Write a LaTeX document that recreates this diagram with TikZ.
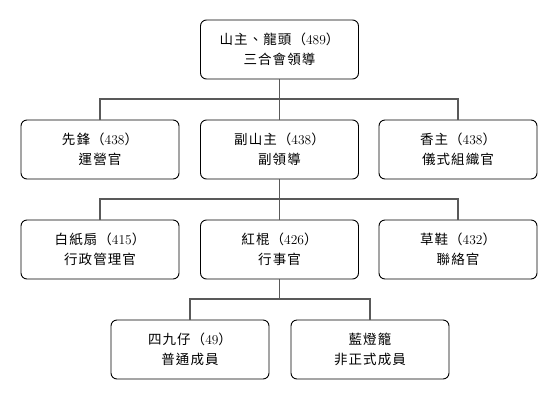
\documentclass[tikz,border=0pt]{standalone}
\usepackage{fontspec}
\newfontfamily\cjk[LetterSpace=8]{Noto Sans CJK TC}
\newcommand{\nr}[1]{（{\rmfamily #1}）}
\begin{document}
\begin{tikzpicture}[x=1pt,y=-1pt,
  rolle/.style={draw=black, line width=0.9pt, rounded corners=6pt, minimum width=158pt, minimum height=59pt, inner sep=0pt, align=center, font=\cjk\fontsize{13.5}{20}\selectfont},
  ast/.style={draw=black!65, line width=1.3pt}]
            \useasboundingbox (0,0) rectangle (560,400);

            \node[rolle] (shanzhu) at (279.5,49.5) {山主、龍頭\nr{489}\\三合會領導};

            \node[rolle] (xianfeng) at (100,149.5) {先鋒\nr{438}\\運營官};
            \node[rolle] (fushanzhu) at (279.5,149.5) {副山主\nr{438}\\副領導};
            \node[rolle] (xiangzhu) at (458,149.5) {香主\nr{438}\\儀式組織官};

            \node[rolle] (baizhishan) at (100,249.5) {白紙扇\nr{415}\\行政管理官};
            \node[rolle] (honggun) at (279.5,249.5) {紅棍\nr{426}\\行事官};
            \node[rolle] (caoxie) at (458,249.5) {草鞋\nr{432}\\聯絡官};

            \node[rolle] (sijiuzai) at (190,349.5) {四九仔\nr{49}\\普通成員};
            \node[rolle] (landenglong) at (370,349.5) {藍燈籠\\非正式成員};

            % Verzweigungen
            \coordinate (gabel1) at (279.5,99);
            \coordinate (gabel2) at (279.5,199);
            \coordinate (gabel3) at (279.5,299);

            \draw[ast] (shanzhu.south) -- (fushanzhu.north);
            \draw[ast] (gabel1) -| (xianfeng.north);
            \draw[ast] (gabel1) -| (xiangzhu.north);

            \draw[ast] (fushanzhu.south) -- (honggun.north);
            \draw[ast] (gabel2) -| (baizhishan.north);
            \draw[ast] (gabel2) -| (caoxie.north);

            \draw[ast] (honggun.south) -- (gabel3);
            \draw[ast] (gabel3) -| (sijiuzai.north);
            \draw[ast] (gabel3) -| (landenglong.north);

        \end{tikzpicture}
\end{document}
